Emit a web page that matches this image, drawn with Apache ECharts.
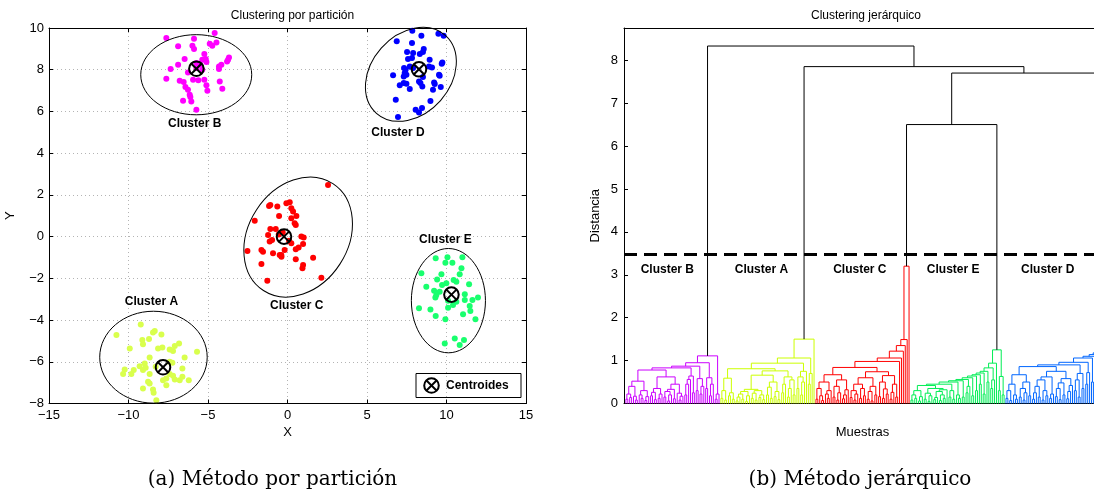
<!DOCTYPE html>
<html><head><meta charset="utf-8">
<script src="https://cdn.jsdelivr.net/npm/echarts@6/dist/echarts.min.js"></script>
<style>html,body{margin:0;padding:0;background:#fff;overflow:hidden;width:1094px;height:496px;}#c{width:1106px;height:496px;}</style>
</head><body><div id="c"></div>
<script>
// ---------------- Scatter data (partition clustering) ----------------
const pointsA = [[-9.23,-4.21],[-10.76,-4.72],[-8.35,-4.53],[-8.46,-4.60],[-7.93,-4.69],[-9.13,-4.96],[-8.71,-4.91],[-9.09,-5.16],[-9.92,-5.36],[-8.14,-5.36],[-7.87,-5.31],[-7.41,-5.41],[-7.20,-5.48],[-7.09,-5.24],[-6.82,-5.12],[-8.67,-5.80],[-5.69,-5.52],[-6.47,-5.80],[-8.98,-6.08],[-9.30,-6.21],[-10.24,-6.37],[-9.67,-6.40],[-9.09,-6.40],[-8.92,-6.29],[-7.41,-6.00],[-7.24,-6.05],[-8.29,-6.24],[-6.61,-6.32],[-10.34,-6.59],[-9.82,-6.59],[-8.67,-6.59],[-7.41,-6.59],[-7.20,-6.67],[-6.78,-6.88],[-7.62,-6.80],[-7.83,-6.88],[-7.09,-6.85],[-6.21,-6.88],[-8.77,-6.96],[-8.67,-7.04],[-9.09,-7.28],[-8.46,-7.33],[-8.42,-7.48],[-8.25,-7.84],[-6.61,-6.72],[-7.62,-7.12]];
const pointsB = [[-7.62,9.52],[-6.88,9.12],[-5.88,9.49],[-5.98,9.15],[-5.88,8.99],[-4.89,9.25],[-4.73,9.15],[-4.47,9.31],[-4.58,9.76],[-5.23,8.75],[-6.47,8.51],[-6.88,8.24],[-7.35,8.03],[-7.62,7.57],[-5.36,8.48],[-5.52,8.24],[-5.10,8.37],[-5.36,8.00],[-5.73,8.08],[-6.26,7.87],[-5.94,7.52],[-5.61,7.49],[-5.23,7.52],[-6.78,7.47],[-6.53,7.41],[-6.42,7.17],[-6.26,7.04],[-6.15,6.80],[-6.11,6.69],[-6.57,6.51],[-6.05,6.48],[-5.73,6.08],[-5.10,7.25],[-5.04,6.99],[-4.26,7.44],[-4.10,7.09],[-4.31,8.16],[-4.16,8.24],[-4.31,8.03],[-3.74,8.48],[-3.68,8.59],[-3.80,8.40],[-5.73,8.32],[-5.14,8.51]];
const pointsC = [[-2.06,0.76],[-1.16,1.47],[-1.08,1.52],[-0.64,1.44],[-0.07,1.60],[-0.53,0.99],[-1.08,0.37],[-0.74,0.37],[-1.22,0.08],[-0.97,-0.16],[-1.12,-0.24],[-1.64,-0.64],[-1.54,-0.72],[-2.52,-0.69],[-0.91,-0.80],[-0.49,-0.88],[-0.38,-0.96],[-1.64,-1.31],[-1.27,-2.11],[2.55,2.48],[0.14,1.65],[0.24,1.36],[0.35,1.20],[0.56,0.99],[0.24,0.88],[0.45,0.64],[0.52,0.56],[0.87,0.00],[1.02,-0.04],[0.98,-0.36],[0.70,-0.52],[0.52,-0.61],[0.24,-0.32],[-0.18,-0.64],[-0.39,-0.88],[1.61,-1.01],[0.52,-1.09],[0.98,-1.36],[0.94,-1.52],[2.13,-1.97],[-0.30,0.20],[0.10,-0.20],[-0.55,0.10]];
const pointsD = [[7.85,9.87],[8.42,9.63],[9.49,9.73],[9.82,9.63],[6.87,9.36],[7.83,9.28],[8.57,8.99],[8.52,8.85],[7.52,8.85],[7.90,8.80],[8.32,8.75],[7.83,8.56],[7.58,8.51],[8.94,8.48],[9.74,8.35],[9.70,8.29],[7.33,8.08],[7.43,8.00],[7.69,8.16],[7.90,8.08],[8.90,8.16],[9.09,8.11],[6.64,7.73],[7.37,7.84],[7.48,7.76],[7.31,7.68],[8.52,7.65],[9.53,7.76],[9.57,7.71],[7.06,7.26],[7.31,7.36],[7.48,7.33],[8.27,7.44],[8.36,7.36],[8.48,7.20],[9.22,7.39],[9.26,7.31],[9.64,7.17],[7.69,7.07],[9.15,7.04],[6.81,6.56],[8.99,6.50],[8.06,6.08],[8.27,5.95],[8.46,6.16],[6.95,5.73]];
const pointsE = [[9.32,-1.04],[10.06,-0.99],[11.00,-0.99],[9.93,-1.25],[10.37,-1.25],[10.94,-1.52],[8.42,-1.76],[9.68,-1.80],[10.83,-1.80],[9.41,-2.05],[10.45,-2.08],[10.62,-2.16],[9.99,-2.24],[8.73,-2.40],[11.42,-2.28],[9.72,-2.32],[9.22,-2.60],[9.57,-2.64],[9.36,-2.80],[9.30,-2.92],[11.15,-2.76],[11.98,-2.92],[11.63,-3.04],[11.15,-3.04],[10.62,-3.12],[10.10,-3.08],[10.41,-3.28],[11.46,-3.33],[8.27,-3.44],[8.99,-3.49],[10.10,-3.41],[11.04,-3.72],[11.50,-3.56],[9.32,-3.81],[9.93,-3.96],[11.82,-3.96],[10.52,-4.88],[11.10,-4.96],[10.83,-5.20],[9.89,-5.12]];
const centroids = [[-7.83,-6.26],[-5.73,8.05],[-0.22,0.0],[8.27,8.02],[10.31,-2.78]];
// ellipse: [centreX, centreY, semi-axis along own x (x-units), semi-axis along own y (x-units), tilt deg]
const ellipses = [[-8.43,-5.78,3.38,2.89,0],[-5.74,7.76,3.49,2.52,0],[0.67,-0.02,4.01,3.13,57],[7.76,7.78,3.27,2.49,48.5],[10.12,-3.07,2.33,3.28,0]];
const scatterLabels = ['Cluster A','Cluster B','Cluster C','Cluster D','Cluster E'];
const scatterLabelPos = [[-8.56,-3.13],[-5.84,5.39],[0.58,-3.33],[6.95,4.96],[9.93,-0.16]];

// ---------------- Dendrogram data (hierarchical clustering) ----------------
// heights of the merge between each pair of neighbouring leaves, in leaf order
const gapsB = [0.10,0.22,0.14,0.40,0.17,0.08,0.52,0.20,0.12,0.30,0.07,0.16, 0.78,
  0.18,0.26,0.09,0.35,0.12,0.22,0.62,0.15,0.28,0.06,0.20,0.33,0.11,0.45,0.24,0.08,0.17, 0.83,
  0.20,0.45,0.56,0.64,0.25, 0.87, 0.30,0.58,0.22,0.40, 0.95, 0.35,0.60,0.18,0.45, 1.11, 0.10,0.22];
const gapsA = [0.12,0.30,0.08,0.59,0.18,0.25,0.10, 0.81,
  0.06,0.15,0.22,0.10,0.28,0.05,0.18,0.33,0.12,0.24,0.08,0.30,0.14,0.20,0.09, 0.66,
  0.20,0.38,0.12,0.50,0.16,0.28,0.09, 0.76, 0.25,0.45,0.62,0.15,0.35,0.55,0.20, 0.94,
  0.35,0.62,0.20,0.50,0.75, 1.06, 0.45,0.70, 1.50];
const gapsC = [0.10,0.35,0.18,0.07,0.50,0.22,0.12,0.30,0.67,0.15,0.40,0.08,0.25,0.55,0.11,0.20,0.32, 0.84,
  0.14,0.30,0.08,0.22,0.45,0.12,0.35,0.18,0.60,0.10,0.28,0.06,0.40,0.20,0.74,0.16,0.50,0.12,0.34,0.22,0.65,0.10,0.26,0.45,0.15,
  0.98,1.06,1.22,1.35,1.49,3.20];
const gapsE = [0.08,0.20,0.12,0.30,0.06,0.16,0.42,0.10,0.24,0.05,0.18,0.35,0.09,0.14,0.28,0.07,0.20,0.12,0.32, 0.45,
  0.15,0.30,0.10, 0.50, 0.20,0.12, 0.53, 0.15, 0.56, 0.25,0.40, 0.60, 0.18, 0.64, 0.30, 0.67, 0.45, 0.71, 0.22, 0.75, 0.50, 0.83,
  0.35,0.55, 0.94, 1.25, 0.30,0.63,0.20];
const gapsD = [0.12,0.30,0.07,0.45,0.20,0.10,0.67,0.15,0.35,0.08,0.25,0.50,0.18, 0.86,
  0.10,0.25,0.40,0.15,0.55,0.08,0.30,0.18,0.62,0.12,0.22,0.75,0.16,0.35,0.09,0.48,0.20,0.58,0.11,0.28,0.42, 0.90,
  0.30,0.55,0.15,0.70,0.35, 0.96, 0.45,0.72, 1.06, 0.50, 1.10, 1.14, 1.18];
const dendroOrder = ['Cluster B','Cluster A','Cluster C','Cluster E','Cluster D'];
const clusterJoinHeights = [8.33, 7.85, 6.5, 7.7];   // B|A, A|C, C|E, E|D
const cutHeight = 3.47;
const dendroLabelX = [22.8, 72.3, 124.1, 173.2, 223.0];
const dendroLabelY = 3.12;

// ---------------- styles ----------------
const scatterColors = ['#d9ff4d','#ff00ff','#ff0000','#0000ff','#19ff6e'];
const dendroColors = ['#cc00ff','#ccff00','#ff0000','#00ee55','#0066ff'];
const FONT = 'Liberation Sans, Arial, Helvetica, sans-serif';

// ---------------- build dendrogram links ----------------
const gapGroups = [gapsB, gapsA, gapsC, gapsE, gapsD];
const allGaps = [];
const clusterStart = [];
let cnt = 1;
gapGroups.forEach((g, i) => {
  clusterStart.push(cnt);
  allGaps.push(...g);
  cnt += g.length + 1;
  if (i < clusterJoinHeights.length) allGaps.push(clusterJoinHeights[i]);
});
const nLeaves = allGaps.length + 1;
function clusterOf(leaf) { let c = 0; for (let i = 0; i < clusterStart.length; i++) if (leaf >= clusterStart[i]) c = i; return c; }
const links = [];
function build(lo, hi) {
  if (lo === hi) return { x: lo, h: 0 };
  let k = lo, m = -1;
  for (let j = lo; j < hi; j++) { if (allGaps[j - 1] > m) { m = allGaps[j - 1]; k = j; } }
  const L = build(lo, k), R = build(k + 1, hi);
  const ci = m < cutHeight ? clusterOf(lo) : -1;
  links.push([L.x, R.x, L.h, R.h, m, ci]);
  return { x: (L.x + R.x) / 2, h: m };
}
build(1, nLeaves);

const minus = v => String(v).replace('-', '\u2212');
const chart = echarts.init(document.getElementById('c'), null, { renderer: 'canvas' });

const tickStyle = { inside: true, length: 4, lineStyle: { color: '#000', width: 1 } };
const axLine = { show: true, onZero: false, lineStyle: { color: '#000', width: 1 } };
const lbl = { color: '#000', fontSize: 13, fontFamily: FONT };

function circX(cx, cy, r, lw) {
  const d = r * 0.72;
  return [
    { type: 'circle', shape: { cx: cx, cy: cy, r: r }, style: { stroke: '#000', fill: null, lineWidth: lw } },
    { type: 'line', shape: { x1: cx - d, y1: cy - d, x2: cx + d, y2: cy + d }, style: { stroke: '#000', lineWidth: lw } },
    { type: 'line', shape: { x1: cx - d, y1: cy + d, x2: cx + d, y2: cy - d }, style: { stroke: '#000', lineWidth: lw } }
  ];
}

const pointSets = [pointsA, pointsB, pointsC, pointsD, pointsE];
const series = [];
pointSets.forEach((pts, i) => {
  series.push({ type: 'scatter', name: scatterLabels[i], xAxisIndex: 0, yAxisIndex: 0, data: pts,
    symbol: 'circle', symbolSize: 6, itemStyle: { color: scatterColors[i], opacity: 1 }, silent: true, z: 2 });
});
series.push({
  type: 'custom', xAxisIndex: 0, yAxisIndex: 0, data: ellipses, z: 3, silent: true,
  renderItem: function (params, api) {
    const c = api.coord([api.value(0), api.value(1)]);
    const s = api.size([1, 1]);
    return { type: 'ellipse', x: c[0], y: c[1], rotation: api.value(4) * Math.PI / 180,
      shape: { cx: 0, cy: 0, rx: api.value(2) * s[0], ry: api.value(3) * s[0] },
      style: { stroke: '#000', fill: null, lineWidth: 1 } };
  }
});
series.push({
  type: 'custom', xAxisIndex: 0, yAxisIndex: 0, data: centroids, z: 4, silent: true,
  renderItem: function (params, api) {
    const c = api.coord([api.value(0), api.value(1)]);
    return { type: 'group', children: circX(c[0], c[1], 7.3, 2) };
  }
});
series.push({
  type: 'custom', xAxisIndex: 0, yAxisIndex: 0, silent: true, z: 5,
  data: scatterLabelPos.map((p, i) => [p[0], p[1], i]),
  renderItem: function (params, api) {
    const c = api.coord([api.value(0), api.value(1)]);
    return { type: 'text', x: c[0], y: c[1], style: { text: scatterLabels[api.value(2)], fill: '#000',
      font: 'bold 12px ' + FONT, textAlign: 'center', textVerticalAlign: 'middle' } };
  }
});
// dendrogram
series.push({
  type: 'custom', xAxisIndex: 2, yAxisIndex: 2, data: links, silent: true, z: 2, clip: false,
  renderItem: function (params, api) {
    const xl = api.value(0), xr = api.value(1), hl = api.value(2), hr = api.value(3), h = api.value(4), ci = api.value(5);
    const pts = [api.coord([xl, hl]), api.coord([xl, h]), api.coord([xr, h]), api.coord([xr, hr])];
    return { type: 'polyline', shape: { points: pts },
      style: { stroke: ci < 0 ? '#000' : dendroColors[ci], lineWidth: 1, fill: null } };
  }
});
series.push({
  type: 'line', xAxisIndex: 2, yAxisIndex: 2, data: [[0, cutHeight], [nLeaves + 1, cutHeight]],
  symbol: 'none', silent: true, z: 4, lineStyle: { color: '#000', width: 3, type: [13, 7] }
});
series.push({
  type: 'custom', xAxisIndex: 2, yAxisIndex: 2, silent: true, z: 5,
  data: dendroLabelX.map((x, i) => [x, dendroLabelY, i]),
  renderItem: function (params, api) {
    const c = api.coord([api.value(0), api.value(1)]);
    return { type: 'text', x: c[0], y: c[1], style: { text: dendroOrder[api.value(2)], fill: '#000',
      font: 'bold 12px ' + FONT, textAlign: 'center', textVerticalAlign: 'middle' } };
  }
});

const L = { left: 49, top: 28, width: 477, height: 375.5 };
const R = { left: 624, top: 28, width: 477, height: 375.5 };

chart.setOption({
  animation: false,
  backgroundColor: '#fff',
  title: [
    { text: 'Clustering por partición', left: L.left + L.width / 2, textAlign: 'center', top: 5,
      textStyle: { fontSize: 12, fontWeight: 'normal', fontFamily: FONT, color: '#000' } },
    { text: 'Clustering jerárquico', left: 861, textAlign: 'center', top: 5,
      textStyle: { fontSize: 12, fontWeight: 'normal', fontFamily: FONT, color: '#000' } }
  ],
  grid: [
    { left: L.left, top: L.top, width: L.width, height: L.height, containLabel: false },
    { left: R.left, top: R.top, width: R.width, height: R.height, containLabel: false }
  ],
  xAxis: [
    { type: 'value', gridIndex: 0, min: -15, max: 15, interval: 5, position: 'bottom',
      axisLine: axLine, axisTick: tickStyle,
      axisLabel: Object.assign({ margin: 5, formatter: minus }, lbl),
      splitLine: { show: true, lineStyle: { color: '#b4b4b4', type: [1, 3], width: 1 } },
      name: 'X', nameLocation: 'middle', nameGap: 22, nameTextStyle: { fontSize: 13, fontFamily: FONT, color: '#000' } },
    { type: 'value', gridIndex: 0, min: -15, max: 15, interval: 5, position: 'top',
      axisLine: axLine, axisTick: tickStyle, axisLabel: { show: false }, splitLine: { show: false } },
    { type: 'value', gridIndex: 1, min: 0, max: nLeaves + 1, position: 'bottom',
      axisLine: axLine, axisTick: { show: false }, axisLabel: { show: false }, splitLine: { show: false },
      name: 'Muestras', nameLocation: 'middle', nameGap: 22, nameTextStyle: { fontSize: 13, fontFamily: FONT, color: '#000' } },
    { type: 'value', gridIndex: 1, min: 0, max: nLeaves + 1, position: 'top',
      axisLine: axLine, axisTick: { show: false }, axisLabel: { show: false }, splitLine: { show: false } }
  ],
  yAxis: [
    { type: 'value', gridIndex: 0, min: -8, max: 10, interval: 2, position: 'left',
      axisLine: axLine, axisTick: tickStyle,
      axisLabel: Object.assign({ margin: 5, formatter: minus }, lbl),
      splitLine: { show: true, lineStyle: { color: '#b4b4b4', type: [1, 3], width: 1 } },
      name: 'Y', nameLocation: 'middle', nameGap: 32, nameRotate: 90, nameTextStyle: { fontSize: 13, fontFamily: FONT, color: '#000' } },
    { type: 'value', gridIndex: 0, min: -8, max: 10, interval: 2, position: 'right',
      axisLine: axLine, axisTick: tickStyle, axisLabel: { show: false }, splitLine: { show: false } },
    { type: 'value', gridIndex: 1, min: 0, max: 8.75, interval: 1, position: 'left',
      axisLine: axLine, axisTick: tickStyle,
      axisLabel: Object.assign({ margin: 6, formatter: v => (v <= 8 ? String(v) : '') }, lbl),
      splitLine: { show: false },
      name: 'Distancia', nameLocation: 'middle', nameGap: 22, nameRotate: 90, nameTextStyle: { fontSize: 13, fontFamily: FONT, color: '#000' } }
  ],
  graphic: [
    { type: 'group', z: 100, children: [
      { type: 'rect', shape: { x: 416, y: 373.5, width: 105, height: 24 }, style: { stroke: '#000', fill: '#fff', lineWidth: 1 } },
      ...circX(431.5, 385.5, 7.3, 2),
      { type: 'text', x: 446, y: 385.5, style: { text: 'Centroides', font: 'bold 12px ' + FONT, fill: '#000', textVerticalAlign: 'middle' } }
    ] },
    { type: 'text', x: 272.5, y: 480, style: { text: '(a) Método por partición', font: '20px DejaVu Serif, serif', fill: '#000', textAlign: 'center', textVerticalAlign: 'middle' } },
    { type: 'text', x: 860, y: 480, style: { text: '(b) Método jerárquico', font: '20px DejaVu Serif, serif', fill: '#000', textAlign: 'center', textVerticalAlign: 'middle' } }
  ],
  series: series
});
</script></body></html>
